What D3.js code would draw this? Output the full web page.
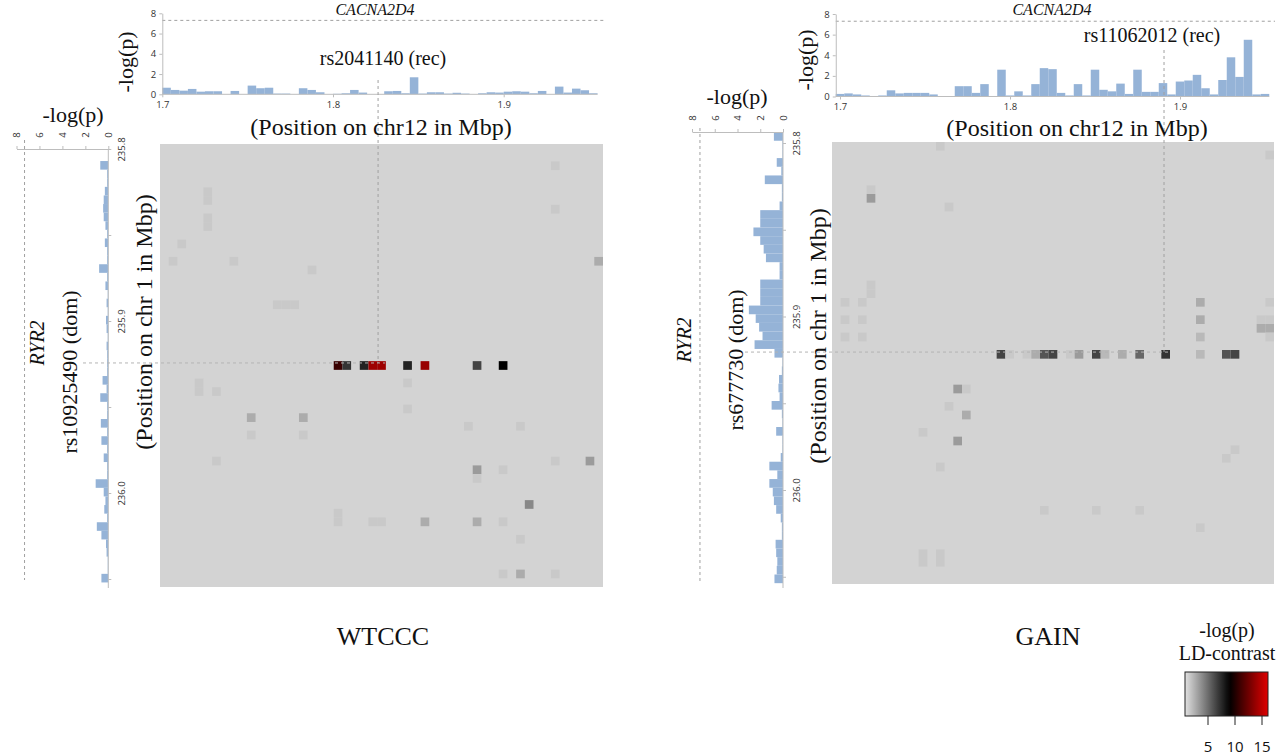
<!DOCTYPE html>
<html>
<head>
<meta charset="utf-8">
<script src="https://cdn.jsdelivr.net/npm/d3@7"></script>
<style>
  body { margin: 0; background: #fff; }
  svg { display: block; }
</style>
</head>
<body>
<svg id="chart" width="1280" height="755"></svg>
<script>
// ---- data ----
var posTicks12 = [1.7, 1.8, 1.9];
var posTicks1 = [235.8, 235.85, 235.9, 235.95, 236.0, 236.05];
var pTicks = [0, 2, 4, 6, 8];
var sigLine = 7.3;           // genome-wide threshold, -log10(5e-8)
var legendTicks = [5, 10, 15];
var legendStops = [0.7, 9, 16];

// WTCCC: CACNA2D4 bars (chr12, 0.005 Mbp bins) and RYR2 bars (chr1)
var wtcccTopBars = [0.65, 0.43, 0.36, 0.53, 0.26, 0.3, 0.3, 0, 0.33, 0,
  0.86, 0.6, 0.65, 0.07, 0.07, 0, 0.6, 0.43, 0.2, 0,
  0.05, 0.1, 0.43, 0.17, 0, 0, 0.3, 0.33, 0.1, 1.68,
  0.07, 0.2, 0.2, 0.07, 0.15, 0.07, 0, 0.1, 0.2, 0.17,
  0.26, 0.3, 0.26, 0.1, 0.33, 0, 0.76, 0.17, 0.56, 0.4, 0.1];
var wtcccSideBars = [0, 0, 0.7, 0.1, 0.1, 0.3, 0.4, 0.45, 0.4, 0.25,
  0.1, 0.3, 0.1, 0.1, 0.8, 0.1, 0.25, 0.05, 0.15, 0.05,
  0.2, 0.15, 0.05, 0.15, 0.1, 0.1, 0.1, 0.5, 0.15, 0.7,
  0.1, 0.1, 0.65, 0.1, 0.6, 0.1, 0.4, 0.1, 0.1, 1.1,
  0.4, 0.25, 0.35, 0.1, 1.0, 0.6, 0.2, 0.15, 0.05, 0.05, 0.6];
// [row (chr1 bin), column (chr12 bin), -log(p) LD-contrast]
var wtcccCells = [[2,45,1.6],[7,45,1.6],[5,5,1.6],[6,5,1.6],[8,5,1.6],[9,5,1.6],[11,2,1.6],
  [13,1,1.6],[13,8,1.6],[13,50,2.7],[14,17,1.6],[18,13,1.6],[18,14,1.6],[18,15,1.6],
  [25,20,10.8],[25,21,7.1],[25,23,7.7],[25,24,14],[25,25,14],[25,28,7.7],[25,30,13.8],[25,36,6.5],[25,39,9],
  [27,4,1.6],[28,4,1.6],[28,6,1.6],[27,28,1.6],[30,28,1.6],[31,10,2.7],[31,16,2.7],[33,10,1.6],[33,16,1.6],
  [32,35,1.6],[32,41,1.6],[36,6,1.6],[36,45,1.6],[36,49,3.3],[37,36,3.3],[38,36,1.6],[37,39,1.6],
  [41,42,4],[42,20,1.6],[43,20,1.6],[43,24,1.6],[43,25,1.6],[43,30,2.7],[43,36,2.7],[43,39,1.6],
  [45,41,1.6],[49,39,1.6],[49,41,2.7],[49,45,1.6]];

// GAIN
var gainTopBars = [0.25, 0.3, 0.2, 0.1, 0.05, 0.1, 0.6, 0.3, 0.35, 0.35,
  0.35, 0.2, 0, 0, 1.0, 1.0, 0.35, 1.2, 0.05, 2.6,
  0.1, 0.5, 0.1, 1.2, 2.75, 2.65, 0.35, 0.1, 1.2, 0.1,
  2.6, 0.65, 0.5, 1.25, 0.25, 2.6, 0.45, 0.45, 1.3, 0.2,
  1.45, 1.55, 2.1, 0.8, 0.2, 1.6, 3.8, 1.9, 5.5, 0.2, 0.25];
var gainSideBars = [0.8, 0.05, 0.05, 0.55, 0.15, 1.6, 0.1, 0.1, 0.3, 2.0,
  2.0, 2.6, 2.0, 1.7, 1.5, 0.3, 0.3, 2.0, 2.0, 2.0,
  3.0, 2.4, 2.1, 1.8, 2.5, 0.75, 0.05, 0.1, 0.35, 0.4,
  0.3, 1.0, 0.1, 0.05, 0.6, 0.05, 0.05, 0.2, 1.2, 0.5,
  1.2, 0.9, 0.8, 0.6, 0.2, 0.1, 0.1, 0.65, 0.6, 0.5, 0.55, 0.75];
var gainCells = [[0,12,1.6],[1,50,1.6],[5,4,1.6],[6,4,3.3],[7,13,1.6],[16,4,1.6],[17,4,1.6],
  [18,1,1.6],[18,3,1.6],[20,1,1.6],[20,3,1.6],[22,1,1.6],[22,3,1.6],
  [18,42,2.7],[20,42,2.7],[22,42,2.2],[18,50,1.6],[20,49,1.6],[20,50,1.6],[21,49,2.7],[21,50,2.7],[22,50,1.6],
  [24,19,6.5],[24,20,1.6],[24,22,1.6],[24,23,2.7],[24,24,5.9],[24,25,6.5],[24,27,1.6],[24,28,3.3],
  [24,30,6.5],[24,31,2.2],[24,33,2.7],[24,35,5.2],[24,38,7.1],[24,42,2.2],[24,45,5.9],[24,46,6.5],
  [28,14,3.3],[28,15,1.6],[30,13,1.6],[31,15,2.7],[33,10,1.6],[34,14,3.3],[35,46,1.6],[36,45,1.6],
  [37,12,1.6],[42,24,1.6],[42,30,1.6],[42,35,1.6],[44,42,1.6],[47,10,1.6],[48,10,1.6],[47,12,1.6],[48,12,1.6]];

var binSize = 0.005;
var serif = '"Liberation Serif", "Times New Roman", serif';
var sans = '"Open Sans", "Liberation Sans", sans-serif';
var axisGrey = "#bdbdbd", barBlue = "#95b3d7", dashGrey = "#a0a0a0";

var ldColour = d3.scaleLinear().domain(legendStops).range(["#e2e2e2", "#000000", "#dd0000"]);

var panels = [
  { name: "WTCCC", topBars: wtcccTopBars, sideBars: wtcccSideBars, cells: wtcccCells,
    snpTop: "rs2041140 (rec)", snpSide: "rs10925490 (dom)", snp12: 1.8264, snp1: 235.9244,
    heat: {x: 160, y: 144, size: 443},
    top: {xr: [162.3, 503.7], yr: [94.3, 13.3], binStart: 1.7, dashEnd: 605},
    side: {xr: [108.3, 16.5], yr: [149, 493], binStart: 235.797, axisY: 149, bottom: 588, dash: [140, 580]},
    cross: {top: 80, left: 83},
    txt: {title: [375, 15], snpTop: [383, 65], pos12: [381, 135], pTop: [133, 62], pSide: [73, 122],
          gene: [44, 343], snpSide: [77, 372], pos1: [152, 322], name: [383, 645]} },
  { name: "GAIN", topBars: gainTopBars, sideBars: gainSideBars, cells: gainCells,
    snpTop: "rs11062012 (rec)", snpSide: "rs677730 (dom)", snp12: 1.8906, snp1: 235.9205,
    heat: {x: 832, y: 142, size: 442},
    top: {xr: [840, 1180], yr: [96.5, 14], binStart: 1.6975, dashEnd: 1275},
    side: {xr: [783, 692], yr: [143, 490], binStart: 235.7937, axisY: 132, bottom: 588, dash: [128, 582]},
    cross: {top: 50, left: 745},
    txt: {title: [1052, 15], snpTop: [1152, 42], pos12: [1077, 136], pTop: [813, 60], pSide: [737, 104],
          gene: [691, 340], snpSide: [743, 360], pos1: [826, 336], name: [1048, 645]} }
];

var svg = d3.select("#chart");

function styleAxis(a) {
  a.selectAll("path.domain").attr("stroke", axisGrey);
  a.selectAll(".tick line").attr("stroke", axisGrey);
  a.selectAll(".tick text").attr("fill", "#333").style("font-family", sans).style("font-size", "9.5px");
}

function addText(g, xy, str, size, opts) {
  opts = opts || {};
  var t = g.append("text")
    .attr("text-anchor", "middle")
    .style("font-family", serif)
    .style("font-size", size + "px")
    .attr("fill", "#111")
    .text(str);
  if (opts.italic) t.style("font-style", "italic");
  if (opts.rotate) t.attr("transform", "translate(" + xy[0] + "," + xy[1] + ") rotate(-90)");
  else t.attr("x", xy[0]).attr("y", xy[1]);
  return t;
}

function drawPanel(p) {
  var g = svg.append("g");

  // heat map of LD-contrast
  var col = d3.scaleBand().domain(d3.range(51)).range([p.heat.x, p.heat.x + p.heat.size]);
  var row = d3.scaleBand().domain(d3.range(51)).range([p.heat.y, p.heat.y + p.heat.size]);
  g.append("rect")
    .attr("x", p.heat.x).attr("y", p.heat.y)
    .attr("width", p.heat.size).attr("height", p.heat.size)
    .attr("fill", "#d3d3d3");
  g.append("g").selectAll("rect").data(p.cells).join("rect")
    .attr("x", function (d) { return col(d[1]); })
    .attr("y", function (d) { return row(d[0]); })
    .attr("width", col.bandwidth())
    .attr("height", row.bandwidth())
    .attr("fill", function (d) { return ldColour(d[2]); });

  // top bar chart (chr12)
  var x = d3.scaleLinear().domain([1.7, 1.9]).range(p.top.xr);
  var y = d3.scaleLinear().domain([0, 8]).range(p.top.yr);
  var b0 = p.top.binStart, b1 = b0 + binSize * p.topBars.length;

  g.append("line")
    .attr("x1", x(b0)).attr("x2", p.top.dashEnd)
    .attr("y1", y(sigLine)).attr("y2", y(sigLine))
    .attr("stroke", dashGrey).attr("stroke-dasharray", "3,3");

  g.append("g").selectAll("rect").data(p.topBars).join("rect")
    .attr("x", function (d, i) { return x(b0 + i * binSize); })
    .attr("width", function (d, i) { return x(b0 + (i + 1) * binSize) - x(b0 + i * binSize); })
    .attr("y", function (d) { return y(d); })
    .attr("height", function (d) { return y(0) - y(d); })
    .attr("fill", barBlue);

  var xAx = g.append("g").attr("transform", "translate(0," + y(0) + ")")
    .call(d3.axisBottom(x).tickValues(posTicks12).tickFormat(d3.format(".1f")).tickSize(3).tickSizeOuter(0));
  xAx.select("path.domain").remove();
  xAx.append("line").attr("x1", x(b0)).attr("x2", x(b1)).attr("stroke", axisGrey);
  styleAxis(xAx);
  xAx.selectAll(".tick text").attr("y", 7);

  var yAx = g.append("g").attr("transform", "translate(" + x(b0) + ",0)")
    .call(d3.axisLeft(y).tickValues(pTicks).tickSize(3).tickSizeOuter(0));
  styleAxis(yAx);
  yAx.selectAll(".tick text").attr("x", -6);

  // side bar chart (chr1), drawn transposed
  var xs = d3.scaleLinear().domain([0, 8]).range(p.side.xr);
  var ys = d3.scaleLinear().domain([235.8, 236.0]).range(p.side.yr);
  var s0 = p.side.binStart;

  g.append("line")
    .attr("x1", xs(sigLine)).attr("x2", xs(sigLine))
    .attr("y1", p.side.dash[0]).attr("y2", p.side.dash[1])
    .attr("stroke", dashGrey).attr("stroke-dasharray", "3,3");

  g.append("g").selectAll("rect").data(p.sideBars).join("rect")
    .attr("y", function (d, i) { return ys(s0 + i * binSize); })
    .attr("height", function (d, i) { return ys(s0 + (i + 1) * binSize) - ys(s0 + i * binSize); })
    .attr("x", function (d) { return xs(d); })
    .attr("width", function (d) { return xs(0) - xs(d); })
    .attr("fill", barBlue);

  var vAx = g.append("g").attr("transform", "translate(0," + p.side.axisY + ")")
    .call(d3.axisTop(xs).tickValues(pTicks).tickSize(3).tickSizeOuter(0));
  styleAxis(vAx);
  vAx.selectAll(".tick text")
    .attr("x", null).attr("y", null).attr("dy", "0.35em")
    .attr("text-anchor", "middle")
    .attr("transform", "translate(0,-14) rotate(-90)");

  var posAx = g.append("g").attr("transform", "translate(" + xs(0) + ",0)")
    .call(d3.axisRight(ys).tickValues(posTicks1).tickSize(3).tickSizeOuter(0)
      .tickFormat(function (d) { return Math.abs(d * 10 - Math.round(d * 10)) < 1e-6 ? d.toFixed(1) : ""; }));
  posAx.select("path.domain").remove();
  posAx.append("line").attr("y1", p.side.axisY).attr("y2", p.side.bottom).attr("stroke", axisGrey);
  styleAxis(posAx);
  posAx.selectAll(".tick text")
    .attr("x", null).attr("dy", null).attr("text-anchor", "middle")
    .attr("transform", "translate(17,0) rotate(-90)");

  // lead SNP cross-hair
  var cx = x(p.snp12), cy = ys(p.snp1);
  g.append("line").attr("x1", cx).attr("x2", cx).attr("y1", p.cross.top).attr("y2", cy)
    .attr("stroke", dashGrey).attr("stroke-dasharray", "3,3");
  g.append("line").attr("x1", p.cross.left).attr("x2", cx + 7).attr("y1", cy).attr("y2", cy)
    .attr("stroke", "#b4b4b4").attr("stroke-dasharray", "3,3");

  // labels
  var t = p.txt;
  addText(g, t.title, "CACNA2D4", 16, {italic: true});
  addText(g, t.snpTop, p.snpTop, 20);
  addText(g, t.pos12, "(Position on chr12 in Mbp)", 24);
  addText(g, t.pTop, "-log(p)", 22, {rotate: true});
  addText(g, t.pSide, "-log(p)", 22);
  addText(g, t.gene, "RYR2", 20, {italic: true, rotate: true});
  addText(g, t.snpSide, p.snpSide, 22, {rotate: true});
  addText(g, t.pos1, "(Position  on  chr 1 in Mbp)", 24, {rotate: true});
  addText(g, t.name, p.name, 26);
}

panels.forEach(drawPanel);

// legend
var lg = svg.append("g");
var lx = d3.scaleLinear().domain([5, 15]).range([1208, 1262]);
var grad = svg.append("defs").append("linearGradient").attr("id", "ldgrad");
d3.range(0, 1.0001, 0.05).forEach(function (f) {
  var v = lx.invert(1185 + f * (1268 - 1185));
  grad.append("stop").attr("offset", f).attr("stop-color", ldColour(v));
});
lg.append("rect").attr("x", 1185).attr("y", 672).attr("width", 83).attr("height", 44)
  .attr("fill", "url(#ldgrad)").attr("stroke", "#222").attr("stroke-width", 1);
lg.selectAll(".lt").data(legendTicks).join("line")
  .attr("x1", function (d) { return lx(d); }).attr("x2", function (d) { return lx(d); })
  .attr("y1", 716).attr("y2", 725).attr("stroke", "#222");
lg.selectAll(".ll").data(legendTicks).join("text")
  .attr("x", function (d) { return lx(d); }).attr("y", 752)
  .attr("text-anchor", "middle").style("font-family", sans).style("font-size", "15px")
  .attr("fill", "#111").text(function (d) { return d; });
addText(lg, [1227, 637], "-log(p)", 20);
addText(lg, [1227, 660], "LD-contrast", 20);
</script>
</body>
</html>
